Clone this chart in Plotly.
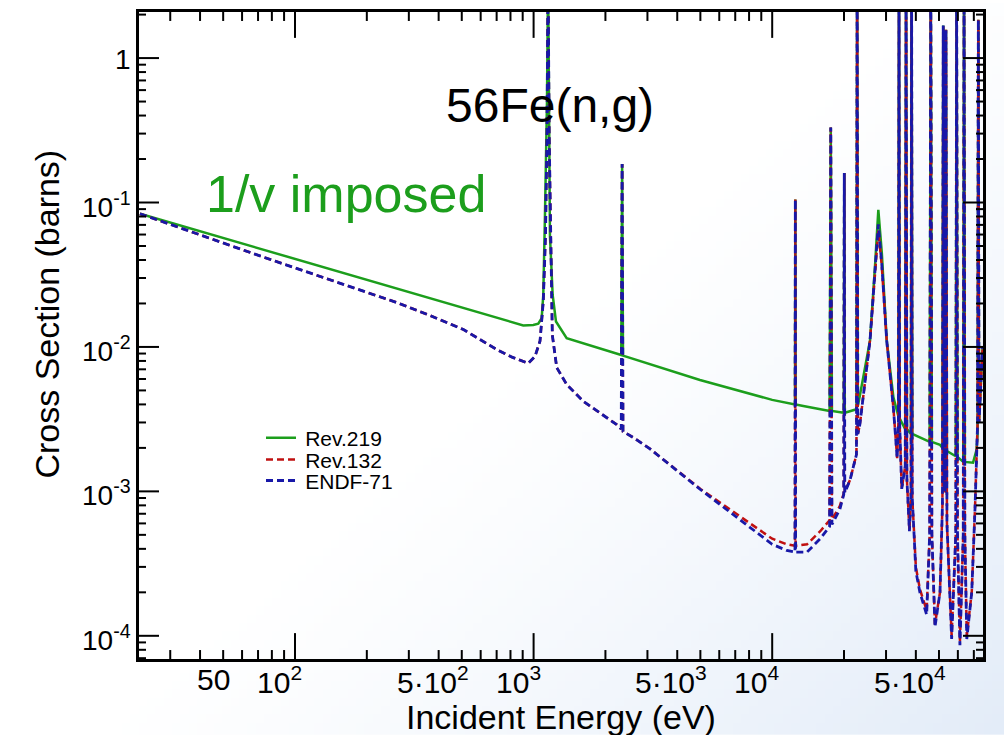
import math, base64, zlib, struct
import plotly.graph_objects as go

# ---------------- data ----------------
# Rev.219 (1/v imposed)
energy_rev219 = [22.4, 150, 905, 997, 1046, 1081, 1098, 1116, 1138, 1150, 1162,
                 1171, 1202, 1241, 1376, 1898, 2302, 2330, 2350, 2370, 4980, 10000, 12460, 12500, 12540,
                 13500, 17400, 17600, 17800, 19950, 20050, 20150, 22550, 22700, 22850, 23300, 25700,
                 27000, 27850, 28800, 30200, 32200, 33800, 34000, 34200, 36100, 36400, 36700, 38150,
                 38400, 38650, 45700, 46200, 46700, 50500, 51700, 52100, 52600, 53100, 53500, 54000,
                 58800, 59300, 59800, 63200, 63700, 64200, 69500, 71800, 72600, 73100, 73600, 74800, 76200]
xs_rev219 = [0.0836, 0.0334, 0.0141, 0.0142, 0.0145, 0.0158, 0.0229, 0.0815, 0.5, 4.0, 0.5,
             0.059, 0.0229, 0.0150, 0.0115, 0.0098, 0.0088, 0.0088, 0.185, 0.0087, 0.0059, 0.0043, 0.0040, 0.105, 0.0040,
             0.0039, 0.0036, 0.33, 0.0036, 0.0035, 0.16, 0.0035, 0.0037, 4.0, 0.0039, 0.0046, 0.0111,
             0.0373, 0.089, 0.045, 0.0111, 0.0045, 0.0033, 4.0, 0.0032, 0.0027, 4.0, 0.0027, 0.0025,
             4.0, 0.0025, 0.0022, 4.0, 0.0022, 0.0021, 0.0020, 1.68, 0.0020, 0.0019, 1.57, 0.0019,
             0.00175, 4.0, 0.00173, 0.0016, 4.0, 0.0016, 0.00158, 0.00193, 0.0025, 1.84, 0.0030, 0.0060, 0.0100]

# ENDF-71
energy_endf71 = [22.4, 73.6, 267, 368, 508, 596, 700, 812, 950, 1014, 1064, 1098, 1122, 1138, 1150, 1162,
                 1178, 1198, 1250, 1376, 1616, 1898, 2229, 2330, 2350, 2370, 2617, 3075, 5000, 10000,
                 11500, 12460, 12500, 12540, 14000, 15900, 17400, 17600, 17800, 19200, 19950, 20050,
                 20150, 21200, 22550, 22700, 22850, 23300, 25700, 27000, 27850, 28800, 30200, 32200,
                 33400, 33800, 34000, 34200, 34900, 36100, 36400, 36700, 37600, 38150, 38400, 38650,
                 40000, 41600, 44400, 45700, 46200, 46700, 48100, 50500, 51700, 52100, 52600, 53100,
                 53500, 54000, 56500, 58800, 59300, 59800, 61200, 63200, 63700, 64200, 65400, 68600,
                 70800, 72600, 73100, 73600, 74800, 76200]
xs_endf71 = [0.0836, 0.0419, 0.0203, 0.0165, 0.0132, 0.0113, 0.0096, 0.0085, 0.0077, 0.0086, 0.011, 0.0207, 0.0596, 0.3, 4.0, 0.3,
             0.05, 0.0121, 0.0072, 0.0055, 0.0042, 0.0035, 0.0029, 0.0027, 0.185, 0.0026, 0.00236, 0.00197, 0.00103, 0.00043,
             0.00039, 0.00038, 0.105, 0.00038, 0.00038, 0.00047, 0.00057, 0.33, 0.00059, 0.00075, 0.00095, 0.16,
             0.00098, 0.0012, 0.0018, 4.0, 0.0025, 0.0029, 0.0111, 0.0372, 0.0706, 0.037, 0.011, 0.0038,
             0.0017, 0.003, 4.0, 0.003, 0.00104, 0.0015, 4.0, 0.0012, 0.00053, 0.0009, 4.0, 0.0009,
             0.00028, 0.0002, 0.00014, 0.0005, 4.0, 0.0005, 0.000115, 0.0002, 0.0008, 1.68, 0.001, 0.001,
             1.57, 0.0006, 0.000095, 0.0005, 4.0, 0.0005, 0.000086, 0.0005, 4.0, 0.0005, 0.000095, 0.0002,
             0.00076, 0.003, 1.84, 0.003, 0.0057, 0.01]

# Rev.132
energy_rev132 = energy_endf71[:]
xs_rev132 = [0.0836, 0.0419, 0.0203, 0.0165, 0.0132, 0.0113, 0.0096, 0.0085, 0.0077, 0.0086, 0.011, 0.0207, 0.0596, 0.3, 4.0, 0.3,
             0.05, 0.0121, 0.0072, 0.0055, 0.0042, 0.0035, 0.0029, 0.0027, 0.185, 0.0026, 0.00236, 0.00197, 0.00104, 0.00047,
             0.00043, 0.00042, 0.105, 0.00042, 0.00043, 0.00053, 0.00063, 0.33, 0.00064, 0.00079, 0.00097, 0.16,
             0.001, 0.0012, 0.0018, 4.0, 0.0025, 0.0029, 0.0111, 0.036, 0.064, 0.036, 0.011, 0.0038,
             0.0017, 0.003, 4.0, 0.003, 0.00104, 0.0015, 4.0, 0.0012, 0.00053, 0.0009, 4.0, 0.0009,
             0.0003, 0.00021, 0.00015, 0.0005, 4.0, 0.0005, 0.00012, 0.0002, 0.0008, 1.68, 0.001, 0.001,
             1.57, 0.0006, 0.0001, 0.0005, 4.0, 0.0005, 0.00009, 0.0005, 4.0, 0.0005, 0.0001, 0.0002,
             0.00076, 0.003, 1.84, 0.003, 0.0057, 0.01]

x_tick_vals = [50, 100, 500, 1000, 5000, 10000, 50000]
x_tick_text = ["50", "10<sup>2</sup>", "5·10<sup>2</sup>", "10<sup>3</sup>", "5·10<sup>3</sup>",
               "10<sup>4</sup>", "5·10<sup>4</sup>"]
x_major = [100, 1000, 10000]
x_minor = [30, 40, 50, 60, 70, 80, 90, 200, 300, 400, 500, 600, 700, 800, 900,
           2000, 3000, 4000, 5000, 6000, 7000, 8000, 9000, 20000, 30000, 40000, 50000, 60000, 70000]
y_tick_vals = [1e-4, 1e-3, 1e-2, 1e-1, 1]
y_tick_text = ["10<sup>-4</sup>", "10<sup>-3</sup>", "10<sup>-2</sup>", "10<sup>-1</sup>", "1"]
y_minor = [m * 10.0 ** d for d in range(-5, 1) for m in range(2, 10) if 7e-5 < m * 10.0 ** d < 2.05]

# ---------------- styling ----------------
FONT = "Liberation Sans, Arial, Helvetica, sans-serif"
GREEN = "#1c9e1c"
RED = "#c01010"
BLUE = "#1818a8"

L, R, T, B = 139, 21, 9, 76
W, H = 1004, 735
PW, PH = W - L - R, H - T - B
XR = [1.3462, 4.8835]
YR = [-4.1606, 0.319]


def px_x(p):
    return (p - L) / PW


def px_y(p):
    return 1 - (p - T) / PH


def frac_x(v):
    return (math.log10(v) - XR[0]) / (XR[1] - XR[0])


def frac_y(v):
    return (math.log10(v) - YR[0]) / (YR[1] - YR[0])


# background gradient image (white to light blue toward lower right)
def make_png(w, h):
    rows = []
    for j in range(h):
        v = j / (h - 1)
        row = bytearray([0])
        for i in range(w):
            u = i / (w - 1)
            t = (u * 0.55 + v * 0.45 - 0.5) / 0.5
            t = max(0.0, min(1.0, t)) ** 1.2
            row += bytes([round(255 - t * 28), round(255 - t * 19), round(255 - t * 7)])
        rows.append(bytes(row))
    raw = b"".join(rows)

    def chunk(tag, data):
        c = struct.pack(">I", len(data)) + tag + data
        return c + struct.pack(">I", zlib.crc32(tag + data) & 0xffffffff)

    png = b"\x89PNG\r\n\x1a\n" + chunk(b"IHDR", struct.pack(">IIBBBBB", w, h, 8, 2, 0, 0, 0))
    png += chunk(b"IDAT", zlib.compress(raw, 9)) + chunk(b"IEND", b"")
    return "data:image/png;base64," + base64.b64encode(png).decode()


fig = go.Figure()
fig.add_trace(go.Scatter(x=energy_rev219, y=xs_rev219, mode="lines", name="\u2009Rev.219",
                         line=dict(color=GREEN, width=2.5), legend="legend"))
fig.add_trace(go.Scatter(x=energy_rev132, y=xs_rev132, mode="lines", name="\u2009Rev.132",
                         line=dict(color=RED, width=2.5, dash="7px,4px"), legend="legend2"))
fig.add_trace(go.Scatter(x=energy_endf71, y=xs_endf71, mode="lines", name="\u2009ENDF-71",
                         line=dict(color=BLUE, width=2.8, dash="7px,4px"), legend="legend3"))

axis_common = dict(showline=True, linecolor="black", linewidth=3, mirror=True,
                   ticks="", showticklabels=False, showgrid=False, zeroline=False)
fig.update_layout(
    xaxis=dict(type="log", range=XR, **axis_common),
    yaxis=dict(type="log", range=YR, **axis_common),
)

# tick marks (inside, on all four sides) drawn from the tick arrays
shapes = []
tick_line = dict(color="black", width=2)


def add_xtick(v, ln):
    f = frac_x(v)
    shapes.append(dict(type="line", xref="paper", yref="paper", x0=f, x1=f, y0=0, y1=ln / PH,
                       line=tick_line, layer="above"))
    shapes.append(dict(type="line", xref="paper", yref="paper", x0=f, x1=f, y0=1, y1=1 - ln / PH,
                       line=tick_line, layer="above"))


def add_ytick(v, ln):
    f = frac_y(v)
    shapes.append(dict(type="line", xref="paper", yref="paper", x0=0, x1=ln / PW, y0=f, y1=f,
                       line=tick_line, layer="above"))
    shapes.append(dict(type="line", xref="paper", yref="paper", x0=1, x1=1 - ln / PW, y0=f, y1=f,
                       line=tick_line, layer="above"))


for v in x_minor:
    add_xtick(v, 9)
for v in x_major:
    add_xtick(v, 26)
for v in y_minor:
    add_ytick(v, 7)
for v in y_tick_vals:
    add_ytick(v, 20)

ann = []
for v, t in zip(x_tick_vals, x_tick_text):
    ann.append(dict(x=math.log10(v), xref="x", y=px_y(680), yref="paper", text=t,
                    xanchor="right", yanchor="middle", xshift=8, showarrow=False, borderpad=0,
                    font=dict(size=30, family=FONT, color="black")))
for v, t in zip(y_tick_vals, y_tick_text):
    ann.append(dict(x=0, xref="paper", y=math.log10(v), yref="y", text=t,
                    xanchor="right", yanchor="middle", xshift=-7, yshift=-2 if "sup" in t else -1,
                    showarrow=False, borderpad=0, font=dict(size=28, family=FONT, color="black")))
ann.append(dict(x=0.5, xref="paper", y=px_y(717), yref="paper", text="Incident Energy (eV)",
                showarrow=False, xanchor="center", yanchor="middle", borderpad=0,
                font=dict(size=34, family=FONT, color="black")))
ann.append(dict(x=px_x(47), xref="paper", y=px_y(313), yref="paper", text="Cross Section (barns)",
                textangle=-90, showarrow=False, xanchor="center", yanchor="middle", borderpad=0,
                font=dict(size=34, family=FONT, color="black")))
ann.append(dict(x=px_x(550), xref="paper", y=px_y(103), yref="paper", text="56Fe(n,g)",
                showarrow=False, xanchor="center", yanchor="middle",
                font=dict(size=48, family=FONT, color="black")))
ann.append(dict(x=px_x(346), xref="paper", y=px_y(192), yref="paper", text="1/v imposed",
                showarrow=False, xanchor="center", yanchor="middle",
                font=dict(size=52, family=FONT, color=GREEN)))

leg_common = dict(xanchor="left", yanchor="middle", bgcolor="rgba(0,0,0,0)", borderwidth=0,
                  font=dict(size=21, family=FONT, color="black"))
fig.update_layout(
    width=W, height=H, margin=dict(l=L, r=R, t=T, b=B, pad=0),
    paper_bgcolor="white", plot_bgcolor="rgba(0,0,0,0)",
    font=dict(family=FONT, color="black"),
    showlegend=True,
    legend=dict(x=px_x(261), y=px_y(437), **leg_common),
    legend2=dict(x=px_x(261), y=px_y(459), **leg_common),
    legend3=dict(x=px_x(261), y=px_y(480), **leg_common),
    annotations=ann,
    shapes=shapes,
    images=[dict(source=make_png(120, 88), xref="paper", yref="paper",
                 x=px_x(0), y=px_y(0), sizex=W / PW, sizey=H / PH,
                 xanchor="left", yanchor="top", sizing="stretch", layer="below")],
)

fig.write_html("out.html")
